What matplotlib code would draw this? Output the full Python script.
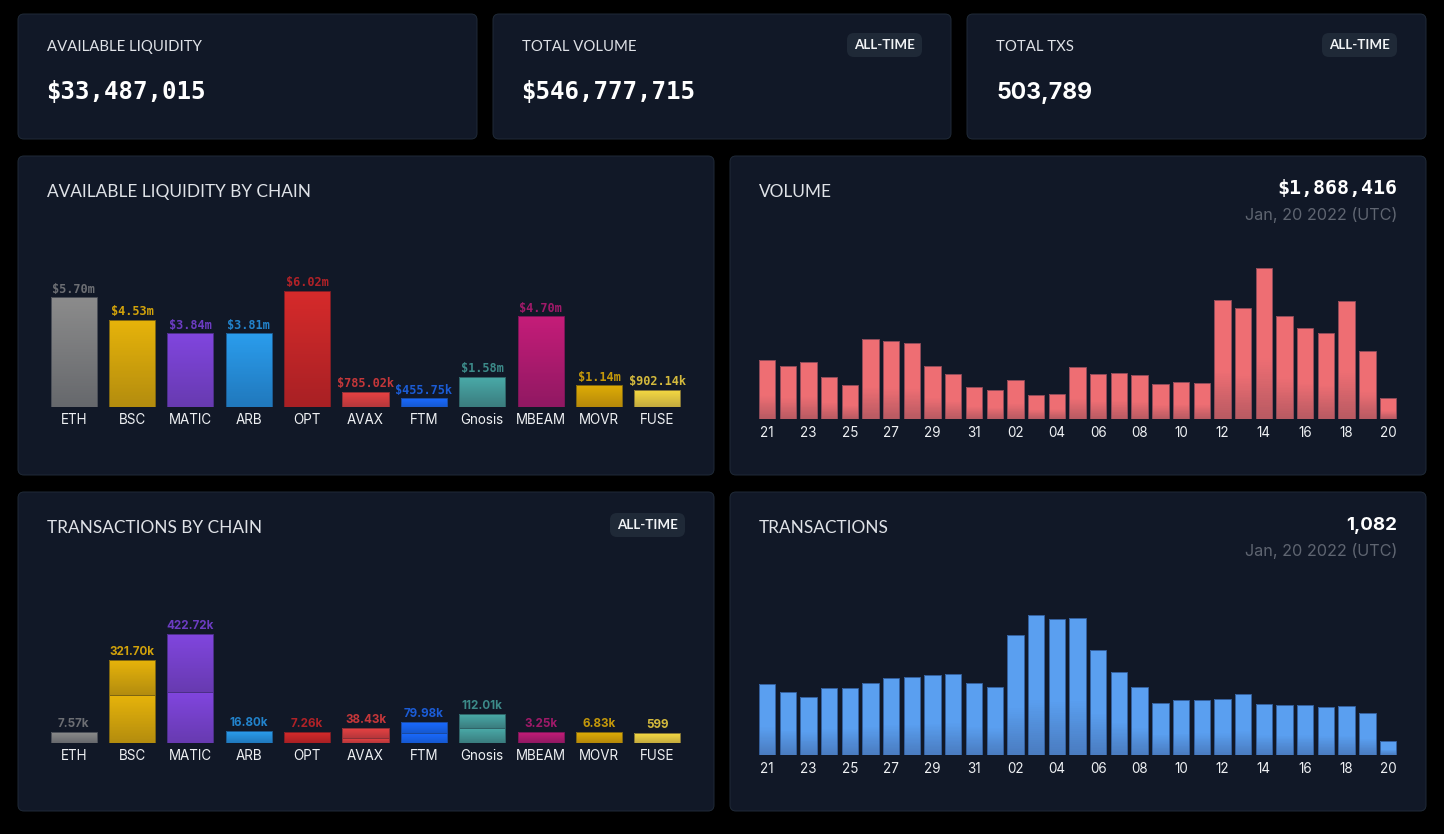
import numpy as np
import matplotlib
matplotlib.use("Agg")
import matplotlib.pyplot as plt
from matplotlib.colors import LinearSegmentedColormap
from matplotlib.patches import FancyBboxPatch

W, H = 1444, 834
MONO = "DejaVu Sans Mono"
SANS = "Lato"
TICK_FONT = "Inter"

BG = "#000000"
CARD = "#111827"
CARD_EDGE = "#1f2937"
PILL = "#1f2937"

# data
chains = ["ETH", "BSC", "MATIC", "ARB", "OPT", "AVAX", "FTM", "Gnosis", "MBEAM", "MOVR", "FUSE"]
liquidity = [5.70, 4.53, 3.84, 3.81, 6.02, 0.78502, 0.45575, 1.58, 4.70, 1.14, 0.90214]
liquidity_labels = ["$5.70m", "$4.53m", "$3.84m", "$3.81m", "$6.02m", "$785.02k", "$455.75k",
                    "$1.58m", "$4.70m", "$1.14m", "$902.14k"]
# small bars sit at the chart's minimum height, so these are read off the bars, not the labels
txs_lower = [42.6, 186.0, 197.7, 46.5, 42.6, 19.4, 38.8, 58.0, 42.6, 42.6, 38.8]
txs_upper = [0, 135.7, 225.0, 0, 0, 38.8, 42.6, 54.0, 0, 0, 0]
txs_labels = ["7.57k", "321.70k", "422.72k", "16.80k", "7.26k", "38.43k", "79.98k",
              "112.01k", "3.25k", "6.83k", "599"]

chain_top = ["#8b8b8b", "#e6b30a", "#8045de", "#2a9cec", "#d52a2a", "#e84142", "#1969ff",
             "#49aaa8", "#c41c78", "#deac05", "#f5d942"]
chain_bottom = ["#66686c", "#b38c0e", "#673ab0", "#2078bc", "#a82024", "#b5373b", "#1558d0",
                "#3a7c7e", "#901862", "#b5880a", "#c4ab3e"]
chain_edge = ["#4a4e57", "#7d6512", "#4b2f88", "#1c5a90", "#7e1e26", "#8c2f36", "#1a4aa0",
              "#2f6468", "#7a1658", "#7d6512", "#857636"]
chain_text = ["#6c6e73", "#d2a20b", "#6c3cc2", "#2283cc", "#b02227", "#c5373a", "#1b5cd6",
              "#3c8a89", "#a01a69", "#c4980a", "#d4ba3d"]

days = ["21", "22", "23", "24", "25", "26", "27", "28", "29", "30", "31",
        "01", "02", "03", "04", "05", "06", "07", "08", "09", "10",
        "11", "12", "13", "14", "15", "16", "17", "18", "19", "20"]
volume = [5.30, 4.76, 5.12, 3.77, 3.10, 7.23, 7.02, 6.87, 4.76, 4.04, 2.86, 2.62, 3.50, 2.14, 2.26, 4.67,
          4.04, 4.19, 3.95, 3.16, 3.34, 3.28, 10.76, 10.00, 13.68, 9.34, 8.20, 7.74, 10.64, 6.15, 1.868]
transactions = [5463, 4844, 4458, 5153, 5205, 5591, 5926, 6029, 6184, 6287, 5540, 5256, 9250, 10796, 10487, 10616,
                8142, 6390, 5256, 4020, 4226, 4277, 4303, 4690, 3917, 3839, 3865, 3710, 3788, 3221, 1082]


def px_axes(fig, x0, y0, x1, y1):
    # pixel box, y counted from the top like the screenshot
    ax = fig.add_axes([x0 / W, 1 - y1 / H, (x1 - x0) / W, (y1 - y0) / H])
    ax.patch.set_alpha(0)
    for s in ax.spines.values():
        s.set_visible(False)
    ax.tick_params(length=0, left=False, labelleft=False)
    return ax


def gradient_bar(ax, x, bottom, height, width, top_col, bot_col, edge_col, stop=0.0):
    # stop = share of the bar that keeps the top colour before it starts darkening
    cmap = LinearSegmentedColormap.from_list("g", [(0, top_col), (stop, top_col), (1, bot_col)] if stop else [top_col, bot_col])
    rows = 64
    ys = np.linspace(bottom + height, bottom, rows + 1)
    grad = np.linspace(0, 1, rows).reshape(-1, 1)
    ax.pcolormesh([x - width / 2, x + width / 2], ys, grad, cmap=cmap, vmin=0, vmax=1, zorder=2,
                  shading="flat", antialiased=False, linewidth=0)
    ax.bar(x, height, width, bottom=bottom, facecolor="none", edgecolor=edge_col, linewidth=0.72, zorder=3)


def chain_axes(fig, y_base, y_top):
    ax = px_axes(fig, 44.5, y_top, 686.5, y_base)
    ax.set_xticks(range(len(chains)))
    ax.set_xticklabels(chains, fontsize=9.7, color="#eef0f3", family=TICK_FONT)
    ax.tick_params(axis="x", pad=4.5)
    return ax


def daily_axes(fig, y_base, y_top):
    ax = px_axes(fig, 756.65, y_top, 1398.4, y_base)
    ax.set_xticks(range(0, len(days), 2))
    ax.set_xticklabels(days[::2], fontsize=9.7, color="#eef0f3", family=TICK_FONT)
    ax.tick_params(axis="x", pad=5)
    return ax


def draw_daily(ax, values, ymax, top_col, bot_col, edge_col):
    for i, v in enumerate(values):
        gradient_bar(ax, i, 0, v, 0.79, top_col, bot_col, edge_col, stop=0.6)
    ax.set_xlim(-0.5, len(values) - 0.5)
    ax.set_ylim(0, ymax)


fig = plt.figure(figsize=(W / 100, H / 100), dpi=100, facecolor=BG)
bg = fig.add_axes([0, 0, 1, 1])
bg.set_xlim(0, W)
bg.set_ylim(H, 0)
bg.axis("off")


def card(x0, y0, x1, y1):
    bg.add_patch(FancyBboxPatch((x0 + 6, y0 + 6), x1 - x0 - 12, y1 - y0 - 12, boxstyle="round,pad=6,rounding_size=6",
                                facecolor=CARD, edgecolor=CARD_EDGE, linewidth=0.72))


def pill(x1, y_mid):
    bg.add_patch(FancyBboxPatch((x1 - 69, y_mid - 6), 63, 12, boxstyle="round,pad=6,rounding_size=7",
                                facecolor=PILL, edgecolor="none"))
    bg.text(x1 - 37.5, y_mid, "ALL-TIME", color="#f1f3f5", fontsize=9.6, fontweight="bold", family=SANS,
            ha="center", va="center")


def title(x, y, s, size=12.4):
    bg.text(x, y, s, color="#dfe2e7", fontsize=size, family=SANS, ha="left", va="center")


for x0, x1 in [(18, 477), (493, 951), (967, 1426)]:
    card(x0, 14, x1, 139)
for x0, x1 in [(18, 714), (730, 1426)]:
    card(x0, 156, x1, 475)
    card(x0, 492, x1, 811)

title(47, 47, "AVAILABLE LIQUIDITY", size=10.7)
title(522, 47, "TOTAL VOLUME", size=10.7)
title(996, 47, "TOTAL TXS", size=10.7)
for x, s in [(46, "$33,487,015"), (521, "$546,777,715")]:
    bg.text(x, 92, s, color="#ffffff", fontsize=17.3, fontweight="bold", family=MONO, ha="left", va="center")
bg.text(996, 93, "503,789", color="#ffffff", fontsize=16.6, fontweight="bold", family=TICK_FONT, ha="left", va="center")
pill(922, 45)
pill(1397, 45)

title(47, 192, "AVAILABLE LIQUIDITY BY CHAIN")
title(47, 528, "TRANSACTIONS BY CHAIN")
pill(685, 525)
title(759, 192, "VOLUME")
title(759, 528, "TRANSACTIONS")

bg.text(1397, 188, "$1,868,416", color="#ffffff", fontsize=14.4, fontweight="bold", family=MONO, ha="right", va="center")
bg.text(1397, 215, "Jan, 20 2022 (UTC)", color="#5f6571", fontsize=11.7, family=TICK_FONT, ha="right", va="center")
bg.text(1397, 525, "1,082", color="#ffffff", fontsize=13.5, fontweight="bold", family=TICK_FONT, ha="right", va="center")
bg.text(1397, 551, "Jan, 20 2022 (UTC)", color="#5f6571", fontsize=11.7, family=TICK_FONT, ha="right", va="center")

# liquidity by chain
ax = chain_axes(fig, 407, 279.6)
for i, v in enumerate(liquidity):
    gradient_bar(ax, i, 0, v, 0.79, chain_top[i], chain_bottom[i], chain_edge[i])
    ax.text(i, v + 0.07, liquidity_labels[i], color=chain_text[i], fontsize=8.6, family=MONO, fontweight="bold",
            ha="center", va="bottom")
ax.set_xlim(-0.5, len(chains) - 0.5)
ax.set_ylim(0, 6.6)

# transactions by chain, up to two stacked segments per bar
ax = chain_axes(fig, 743, 615.6)
for i in range(len(chains)):
    lo, up = txs_lower[i], txs_upper[i]
    gradient_bar(ax, i, 0, lo, 0.79, chain_top[i], chain_bottom[i], chain_edge[i])
    if up > 0:
        gradient_bar(ax, i, lo, up, 0.79, chain_top[i], chain_bottom[i], chain_edge[i])
    ax.text(i, lo + up + 8, txs_labels[i], color=chain_text[i], fontsize=8.4, family=TICK_FONT, fontweight="bold",
            ha="center", va="bottom")
ax.set_xlim(-0.5, len(chains) - 0.5)
ax.set_ylim(0, 494)

ax = daily_axes(fig, 419, 258.6)
draw_daily(ax, volume, 14.5, "#ee6e73", "#b85a62", "#8d4a58")

ax = daily_axes(fig, 755, 606.2)
draw_daily(ax, transactions, 11500, "#5a9ff0", "#4a7cc0", "#345f9c")

fig.savefig("out.png", dpi=100, facecolor=BG)
